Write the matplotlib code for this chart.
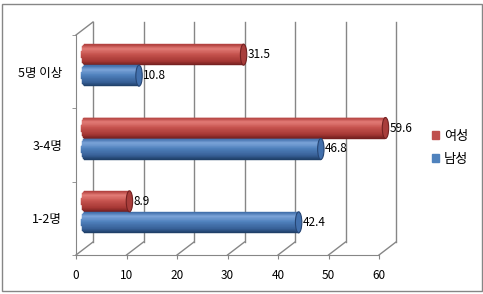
import matplotlib
matplotlib.use("Agg")
import matplotlib.pyplot as plt
from matplotlib.patches import Ellipse, Patch, Rectangle
import numpy as np

plt.rcParams['font.family'] = ['Noto Sans CJK KR', 'DejaVu Sans']

categories = ['1-2명', '3-4명', '5명 이상']
female = [8.9, 59.6, 31.5]   # 여성
male = [42.4, 46.8, 10.8]    # 남성
series_names = ['여성', '남성']
xticks = [0, 10, 20, 30, 40, 50, 60]

W, H = 483, 294
fig = plt.figure(figsize=(W / 100, H / 100), dpi=100)
ax = fig.add_axes([76 / W, (H - 255) / H, 303 / W, 220 / H])
ax.set_xlim(0, 60)
ax.set_ylim(-0.5, 2.5)
ax.patch.set_alpha(0)

gray = '#868686'
px_x = 303 / 60.0          # pixels per x unit
px_y = 220 / 3.0           # pixels per category
DX, DY = 17 / px_x, 13 / px_y   # depth offset of the back wall
bx, by = 0.5 * DX, 0.5 * DY     # bars sit mid depth

# back wall gridlines + floor diagonals
for t in xticks:
    ax.plot([t + DX, t + DX], [-0.5 + DY, 2.5 + DY], color=gray, lw=1, zorder=1, clip_on=False)
    ax.plot([t, t + DX], [-0.5, -0.5 + DY], color=gray, lw=1, zorder=1, clip_on=False)
ax.plot([0, DX], [2.5, 2.5 + DY], color=gray, lw=1, zorder=1, clip_on=False)

# cylinder shading (bottom -> top)
stops = [0.0, 0.2, 0.55, 0.8, 1.0]
red_shade = np.array([(110, 30, 30), (165, 55, 52), (200, 85, 80), (228, 125, 120), (175, 62, 60)]) / 255
blue_shade = np.array([(30, 60, 100), (55, 95, 150), (80, 130, 190), (125, 165, 218), (62, 108, 168)]) / 255

bar_h = 21 / px_y
cap_a = 3.2 / px_x
n_strips = 30


def cylinder(yc, value, shade, cap_face, cap_edge):
    edges = np.linspace(yc - bar_h / 2, yc + bar_h / 2, n_strips + 1)
    for i in range(n_strips):
        t = (i + 0.5) / n_strips
        c = [np.interp(t, stops, shade[:, k]) for k in range(3)]
        s = 2 * t - 1
        left = bx - cap_a * np.sqrt(max(0.0, 1 - s * s))
        ax.barh((edges[i] + edges[i + 1]) / 2, value + bx - left, height=edges[i + 1] - edges[i],
                left=left, color=c, edgecolor=c, lw=0.3, zorder=3, clip_on=False)
    ax.add_patch(Ellipse((value + bx, yc), 2 * cap_a, bar_h, facecolor=cap_face,
                         edgecolor=cap_edge, lw=0.8, zorder=4, clip_on=False))
    ax.text(value + bx + cap_a + 0.1, yc, f'{value}', ha='left', va='center',
            fontsize=8.5, color='black', zorder=5)


for i in range(len(categories)):
    yc = i + by
    cylinder(yc + bar_h / 2, female[i], red_shade, (0.66, 0.24, 0.23), (0.45, 0.13, 0.13))
    cylinder(yc - bar_h / 2, male[i], blue_shade, (0.26, 0.44, 0.68), (0.15, 0.27, 0.45))

# axes styling
for side in ['top', 'right']:
    ax.spines[side].set_visible(False)
ax.spines['left'].set_color(gray)
ax.spines['bottom'].set_color(gray)
ax.set_xticks(xticks)
ax.set_xticklabels([str(t) for t in xticks], fontsize=8.5)
ax.set_yticks(range(len(categories)))
ax.set_yticklabels(categories, fontsize=9)
ax.set_yticks([-0.5, 0.5, 1.5, 2.5], minor=True)
ax.tick_params(axis='x', length=3, color=gray, pad=7)
ax.tick_params(axis='y', which='major', length=0, pad=10)
ax.tick_params(axis='y', which='minor', length=3, color=gray)

handles = [Patch(color=(0.75, 0.31, 0.30)), Patch(color=(0.31, 0.51, 0.74))]
fig.legend(handles, series_names, loc='center left', bbox_to_anchor=(420 / W, 1 - 148 / H),
           frameon=False, fontsize=9.5, handlelength=0.55, handleheight=0.55,
           handletextpad=0.35, labelspacing=0.75)

fig.patches.append(Rectangle((1.5 / W, 3.5 / H), 480 / W, 287 / H, transform=fig.transFigure,
                             fill=False, edgecolor=gray, lw=1))

fig.savefig('out.png', dpi=100)
